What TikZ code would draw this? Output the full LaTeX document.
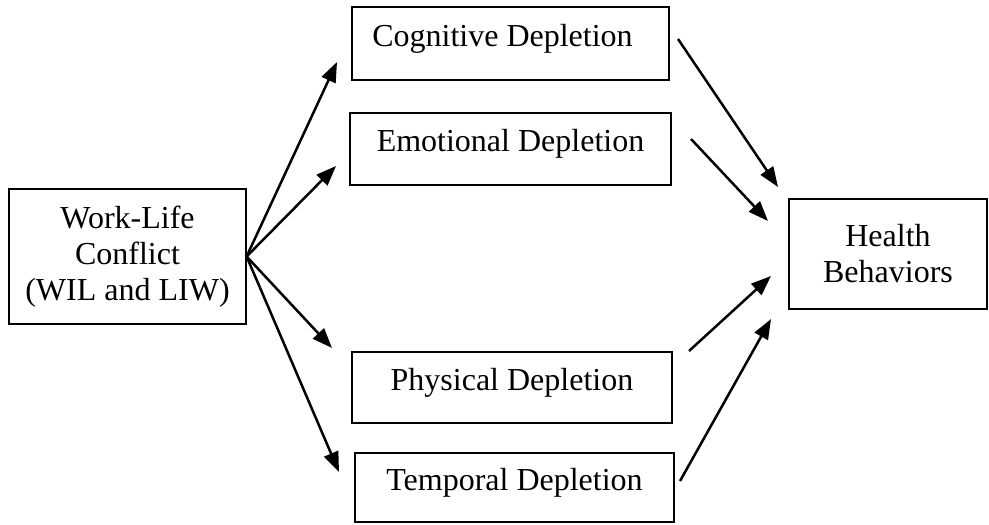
\documentclass[tikz,border=0pt]{standalone}
\usepackage{fontspec}
\setmainfont{Liberation Serif}
\usetikzlibrary{arrows.meta}

\begin{document}
\begin{tikzpicture}[x=1pt, y=-1pt,
    main_node/.style={draw, line width=1.2pt, inner sep=0, align=center, font=\fontsize{32}{36}\selectfont},
    dep_node/.style={main_node, text height=21pt, text depth=16pt},
    arr/.style={line width=2.5pt, -{Triangle[length=20pt,width=15pt]}}]
    \useasboundingbox (0,0) rectangle (989,525);
    \node[main_node, minimum width=237pt, minimum height=135pt] (1) at (127.5,256.5) {Work-Life\\Conflict\\(WIL and LIW)};
    \node[dep_node, minimum width=317pt, minimum height=73pt] (2) at (510.5,43.5) {Cognitive Depletion\hspace{16pt}};
    \node[dep_node, minimum width=321pt, minimum height=72pt] (3) at (510.5,149) {Emotional Depletion};
    \node[dep_node, minimum width=320pt, minimum height=71pt] (4) at (512,387.5) {Physical Depletion};
    \node[dep_node, minimum width=319pt, minimum height=69pt] (5) at (514.5,487.5) {Temporal Depletion};
    \node[main_node, minimum width=198pt, minimum height=110pt] (6) at (888,254) {Health\\Behaviors};
    % free ends of the arrows
    \coordinate (2in) at (337,62);
    \coordinate (3in) at (336,166);
    \coordinate (4in) at (332,348);
    \coordinate (5in) at (339,472);
    \coordinate (2out) at (678,39);
    \coordinate (3out) at (691,139);
    \coordinate (4out) at (689,351);
    \coordinate (5out) at (680,481);
    \coordinate (6a) at (778,187);
    \coordinate (6b) at (768,221);
    \coordinate (6c) at (771,276);
    \coordinate (6d) at (771,319);
    \draw[arr] (1.east) -- (2in);
    \draw[arr] (1.east) -- (3in);
    \draw[arr] (1.east) -- (4in);
    \draw[arr] (1.east) -- (5in);
    \draw[arr] (2out) -- (6a);
    \draw[arr] (3out) -- (6b);
    \draw[arr] (4out) -- (6c);
    \draw[arr] (5out) -- (6d);
\end{tikzpicture}
\end{document}
